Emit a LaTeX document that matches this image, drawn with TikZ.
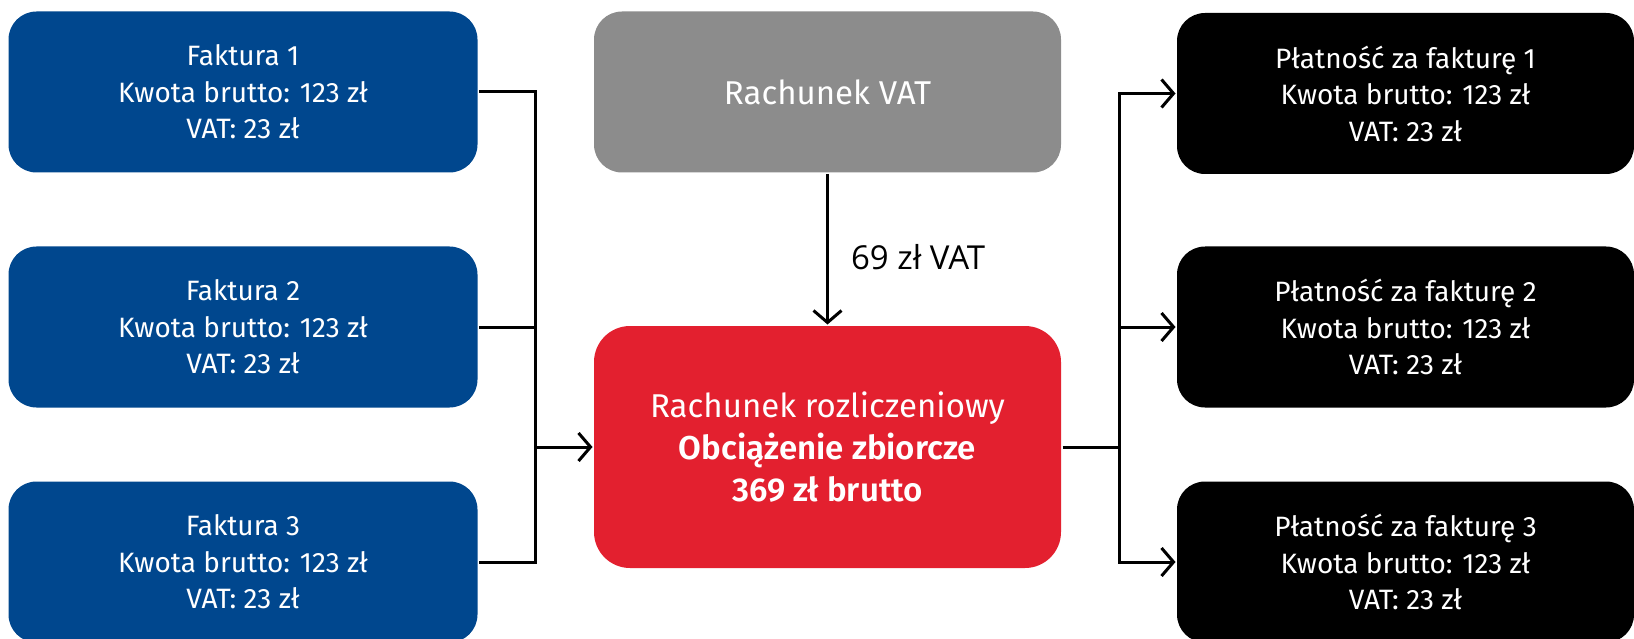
\documentclass[tikz,border=0pt]{standalone}
\usepackage{fontspec}
\setmainfont{Fira Sans}[BoldFont={Fira Sans SemiBold}]
\newfontfamily\labelfont{Open Sans}
\usetikzlibrary{arrows.meta}

\definecolor{invblue}{RGB}{0,71,142}
\definecolor{vatgray}{RGB}{140,140,140}
\definecolor{splitred}{RGB}{227,32,47}

\begin{document}
\begin{tikzpicture}[x=1pt,y=-1pt,line width=3pt,
                    >={Straight Barb[length=12pt,width=28pt]},
                    every node/.style={inner sep=0pt}]

  \tikzstyle{box}=[rectangle,rounded corners=28pt,align=center,text=white,
                   font=\fontsize{28}{36.5}\selectfont]
  \tikzstyle{faktura}=[box,fill=invblue,minimum width=469pt,minimum height=161pt]
  \tikzstyle{konto}=[box,minimum width=467pt,minimum height=161pt,
                     font=\fontsize{33}{42}\selectfont]
  \tikzstyle{platnosc}=[box,fill=black,minimum width=457pt,minimum height=161pt]

  \useasboundingbox (0,0) rectangle (1634,639);

  \node[faktura] (f1) at (243,92)  {Faktura 1\\Kwota brutto: 123 zł\\VAT: 23 zł};
  \node[faktura] (f2) at (243,327) {Faktura 2\\Kwota brutto: 123 zł\\VAT: 23 zł};
  \node[faktura] (f3) at (243,562) {Faktura 3\\Kwota brutto: 123 zł\\VAT: 23 zł};

  \node[konto,fill=vatgray] (vat) at (827.5,92) {Rachunek VAT};
  \node[konto,fill=splitred,minimum height=242pt,rounded corners=36pt] (rr) at (827.5,447)
       {Rachunek rozliczeniowy\\\textbf{Obciążenie zbiorcze}\\\textbf{369 zł brutto}};

  \node[platnosc] (p1) at (1405.5,93.5) {Płatność za fakturę 1\\Kwota brutto: 123 zł\\VAT: 23 zł};
  \node[platnosc] (p2) at (1405.5,327)  {Płatność za fakturę 2\\Kwota brutto: 123 zł\\VAT: 23 zł};
  \node[platnosc] (p3) at (1405.5,562)  {Płatność za fakturę 3\\Kwota brutto: 123 zł\\VAT: 23 zł};

  \coordinate (jl) at (535.5,447);
  \coordinate (jr) at (1119,447);

  \draw (f1.east) -| (jl);
  \draw (f3.east) -| (jl);
  \draw (f2.east) -- (f2.east -| jl);
  \draw[->] (jl) -- (rr.west);

  \draw[->] (vat.south) -- (rr.north)
       node[pos=0.55,right,xshift=22pt,font=\labelfont\fontsize{33}{33}\selectfont] {69 zł VAT};

  \draw (rr.east) -- (jr);
  \draw[->] (jr) |- (p1.west);
  \draw[->] (jr) |- (p2.west);
  \draw[->] (jr) |- (p3.west);
\end{tikzpicture}
\end{document}
